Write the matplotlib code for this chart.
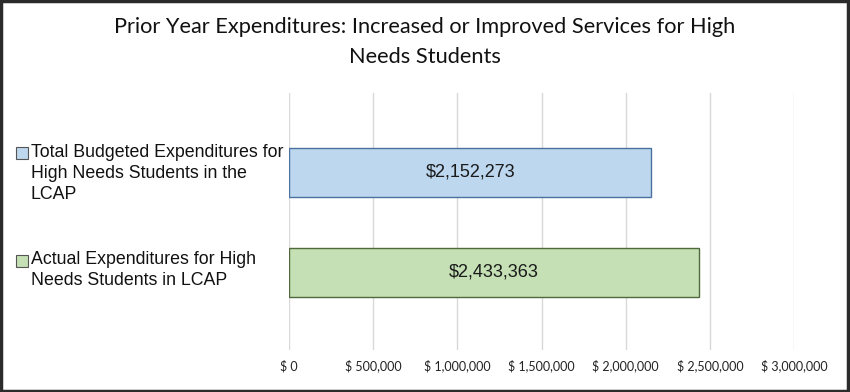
import matplotlib
matplotlib.use('Agg')
import matplotlib.pyplot as plt
import matplotlib.transforms as mtransforms
from matplotlib.patches import Rectangle

categories = ['Total Budgeted Expenditures for\nHigh Needs Students in the\nLCAP',
              'Actual Expenditures for High\nNeeds Students in LCAP']
values = [2152273, 2433363]
fills = ['#bdd7ee', '#c5e0b4']
edges = ['#4a71a0', '#506a3c']
xticks = [0, 500000, 1000000, 1500000, 2000000, 2500000, 3000000]
title = 'Prior Year Expenditures: Increased or Improved Services for High\nNeeds Students'

fig = plt.figure(figsize=(8.5, 3.92), dpi=100)
ax = fig.add_axes([289 / 850, 1 - 350 / 392, (794 - 289) / 850, (350 - 93) / 392])

ypos = list(range(len(values)))
ax.barh(ypos, values, height=0.49, color=fills, edgecolor=edges, linewidth=1.0, zorder=3)
for y, v in zip(ypos, values):
    ax.text(v / 2, y, '${:,}'.format(v), ha='center', va='center',
            fontsize=13, family='Liberation Sans', color='#1a1a1a', zorder=4)

ax.set_xlim(0, 3000000)
ax.set_ylim(1.78, -0.795)
ax.set_xticks(xticks)
ax.set_xticklabels(['$ 0' if t == 0 else '$ {:,}'.format(t) for t in xticks],
                   family='Lato', fontsize=9, color='#222222')
ax.tick_params(axis='x', length=0, pad=7)
ax.set_yticks([])
ax.grid(axis='x', color='#d9d9d9', linewidth=1.0, zorder=0)
for s in ax.spines.values():
    s.set_visible(False)

# category labels on the left, legend-style with a little square key
trans = mtransforms.blended_transform_factory(fig.transFigure, ax.transData)
shifts = [0.01, -0.02]
for y, lab, fc, sh in zip(ypos, categories, fills, shifts):
    nlines = lab.count('\n') + 1
    ax.text(31 / 850, y + sh, lab, transform=trans, ha='left', va='center',
            fontsize=12.8, family='Liberation Sans', linespacing=1.3, color='#111111')
    key_y = y + sh - 0.02 - (nlines - 1) * 0.11 + 0.035
    ax.plot([21.5 / 850], [key_y], marker='s', markersize=8, markerfacecolor=fc,
            markeredgecolor='#555555', markeredgewidth=0.8, transform=trans, clip_on=False)

fig.text(0.5, 1 - 42 / 392, title, ha='center', va='center', fontsize=15.7,
         family='Lato', linespacing=1.68, color='#111111')

fig.patches.append(Rectangle((0.001, 0.002), 0.997, 0.996, transform=fig.transFigure,
                             fill=False, edgecolor='#2b2b2b', linewidth=2.5))

fig.savefig('out.png', dpi=100, facecolor='white')
